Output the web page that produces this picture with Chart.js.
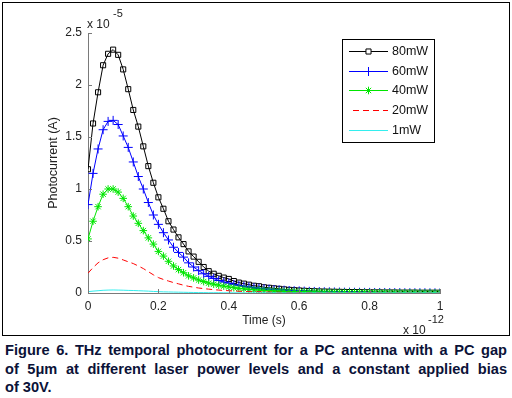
<!DOCTYPE html>
<html>
<head>
<meta charset="utf-8">
<script src="https://cdn.jsdelivr.net/npm/chart.js@4/dist/chart.umd.min.js"></script>
<style>
  html, body { margin:0; padding:0; background:#fff; }
  body { width:512px; height:398px; position:relative; overflow:hidden; }
  #frame { position:absolute; left:2px; top:2px; width:508px; height:334px; box-sizing:border-box; border:1px solid #000; }
  #c { position:absolute; left:3px; top:3px; }
  #cap { position:absolute; left:5px; top:341px; width:502px; font-family:"Liberation Sans", Arial, sans-serif; font-weight:bold; font-size:14.6px; line-height:18.5px; color:#0b1238; }
  #cap div { white-space:nowrap; }
  #cap div.j { text-align:justify; text-align-last:justify; }
</style>
</head>
<body>
<div id="frame"></div>
<canvas id="c" width="506" height="331"></canvas>
<div id="cap">
  <div class="j">Figure 6. THz temporal photocurrent for a PC antenna with a PC gap</div>
  <div class="j">of 5μm at different laser power levels and a constant applied bias</div>
  <div>of 30V.</div>
</div>
<script>
// time axis (units of 1e-12 s)
const timePs = [0,0.0143,0.0286,0.0429,0.0571,0.0714,0.0857,0.1,0.1143,0.1286,0.1429,0.1571,0.1714,0.1857,0.2,0.2143,0.2286,0.2429,0.2571,0.2714,0.2857,0.3,0.3143,0.3286,0.3429,0.3571,0.3714,0.3857,0.4,0.4143,0.4286,0.4429,0.4571,0.4714,0.4857,0.5,0.5143,0.5286,0.5429,0.5571,0.5714,0.5857,0.6,0.6143,0.6286,0.6429,0.6571,0.6714,0.6857,0.7,0.7143,0.7286,0.7429,0.7571,0.7714,0.7857,0.8,0.8143,0.8286,0.8429,0.8571,0.8714,0.8857,0.9,0.9143,0.9286,0.9429,0.9571,0.9714,0.9857,1];

// photocurrent (units of 1e-5 A)
const mw80 = [1.19,1.63,1.93,2.19,2.30,2.34,2.29,2.15,1.96,1.76,1.60,1.41,1.22,1.06,0.92,0.81,0.69,0.61,0.535,0.47,0.40,0.35,0.30,0.25,0.21,0.185,0.165,0.148,0.135,0.115,0.10,0.09,0.08,0.07,0.065,0.055,0.05,0.045,0.04,0.035,0.03,0.027,0.024,
  0.021,0.019,0.017,0.015,0.014,0.013,0.012,0.011,0.010,0.009,0.009,0.008,0.007,0.007,0.006,0.006,0.005,0.005,0.005,0.004,0.004,0.004,0.004,0.003,0.003,0.003,0.003,0.003];
const mw60 = [0.85,1.15,1.385,1.57,1.65,1.66,1.62,1.51,1.40,1.26,1.12,1.00,0.87,0.75,0.66,0.58,0.51,0.44,0.39,0.345,0.29,0.25,0.215,0.185,0.16,0.14,0.12,0.105,0.095,0.083,0.073,0.065,0.058,0.051,0.046,0.041,0.037,0.033,0.030,0.027,0.024,0.022,0.020,
  0.018,0.016,0.015,0.013,0.012,0.011,0.010,0.009,0.008,0.008,0.007,0.007,0.006,0.006,0.005,0.005,0.005,0.004,0.004,0.004,0.003,0.003,0.003,0.003,0.003,0.002,0.002,0.002];
const mw40 = [0.52,0.69,0.83,0.95,1.00,1.00,0.97,0.91,0.83,0.74,0.67,0.60,0.53,0.47,0.40,0.355,0.305,0.26,0.225,0.195,0.165,0.145,0.125,0.11,0.095,0.085,0.075,0.066,0.058,0.051,0.045,0.040,0.035,0.031,0.028,0.025,0.022,0.020,0.018,0.016,0.014,0.013,0.012,
  0.011,0.010,0.009,0.008,0.007,0.007,0.006,0.006,0.005,0.005,0.004,0.004,0.004,0.003,0.003,0.003,0.003,0.002,0.002,0.002,0.002,0.002,0.002,0.001,0.001,0.001,0.001,0.001];
const mw20 = [0.19,0.245,0.29,0.32,0.338,0.343,0.335,0.318,0.30,0.283,0.26,0.235,0.205,0.175,0.148,0.13,0.115,0.10,0.088,0.075,0.064,0.056,0.048,0.042,0.037,0.032,0.028,0.025,0.022,0.019,0.017,0.015,0.013,0.012,0.011,0.010,0.009,0.008,0.007,0.006,0.006,0.005,0.005,
  0.004,0.004,0.004,0.003,0.003,0.003,0.003,0.002,0.002,0.002,0.002,0.002,0.002,0.002,0.001,0.001,0.001,0.001,0.001,0.001,0.001,0.001,0.001,0.001,0.001,0.001,0.001,0.001];
const mw1 = [0.013,0.018,0.022,0.026,0.028,0.029,0.028,0.027,0.025,0.024,0.022,0.020,0.018,0.015,0.013,0.011,0.010,0.009,0.008,0.007,0.006,0.005,0.004,0.004,0.003,0.003,0.003,0.002,0.002,0.002,0.002,0.001,0.001,0.001,0.001,0.001,0.001,0.001,0.001,0.001,0.001,0.001,0.001,
  0.001,0.001,0.001,0.001,0.001,0.001,0.001,0.001,0.001,0.001,0.001,0.001,0.001,0.001,0.001,0.001,0.001,0.001,0.001,0.001,0.001,0.001,0.001,0.001,0.001,0.001,0.001,0.001];

const seriesLabels = ['80mW','60mW','40mW','20mW','1mW'];
const xTickValues = [0,0.2,0.4,0.6,0.8,1];
const xTickLabels = ['0','0.2','0.4','0.6','0.8','1'];
const yTickValues = [0,0.5,1,1.5,2,2.5];
const yTickLabels = ['0','0.5','1','1.5','2','2.5'];
const xTitle = 'Time (s)';
const yTitle = 'Photocurrent (A)';
const xExp = ['x 10','-12'];
const yExp = ['x 10','-5'];

const FONT = '"Liberation Sans", Arial, sans-serif';
const pts = arr => arr.map((v,i)=>({x:timePs[i], y:v}));

const datasets = [
  {label:seriesLabels[0], data:pts(mw80), borderColor:'#000', pointStyle:'rect', pointRadius:3.6, order:5},
  {label:seriesLabels[1], data:pts(mw60), borderColor:'#0000ff', pointStyle:'cross', pointRadius:4.5, order:4},
  {label:seriesLabels[2], data:pts(mw40), borderColor:'#00e600', pointStyle:'star', pointRadius:3.8, order:3},
  {label:seriesLabels[3], data:pts(mw20), borderColor:'#ff0000', pointRadius:0, borderDash:[6,4], order:2},
  {label:seriesLabels[4], data:pts(mw1), borderColor:'#33eeee', pointRadius:0, order:1}
].map(d => Object.assign({borderWidth:1, pointBorderColor:d.borderColor, pointBackgroundColor:'rgba(0,0,0,0)', pointBorderWidth:1, tension:0, fill:false}, d));

const overlay = {
  id:'overlay',
  afterDraw(chart){
    const ctx = chart.ctx, a = chart.chartArea, xs = chart.scales.x, ys = chart.scales.y;
    ctx.save();
    // inward ticks
    ctx.strokeStyle = '#7a7a7a'; ctx.lineWidth = 1;
    yTickValues.forEach(v => { const p = Math.round(ys.getPixelForValue(v)) + 0.5; ctx.beginPath(); ctx.moveTo(a.left, p); ctx.lineTo(a.left + 4, p); ctx.stroke(); });
    xTickValues.forEach(v => { const p = Math.round(xs.getPixelForValue(v)) + 0.5; ctx.beginPath(); ctx.moveTo(p, a.bottom); ctx.lineTo(p, a.bottom - 4); ctx.stroke(); });
    // exponent labels
    ctx.fillStyle = '#222'; ctx.textBaseline = 'middle'; ctx.textAlign = 'left';
    ctx.font = '12px ' + FONT;
    ctx.fillText(yExp[0], a.left - 1, a.top - 8);
    ctx.fillText(xExp[0], a.right - 37, a.bottom + 38);
    ctx.font = '11px ' + FONT;
    ctx.fillText(yExp[1], a.left + 25, a.top - 19);
    ctx.fillText(xExp[1], a.right - 12, a.bottom + 27);
    // legend
    const bx = a.right - 98, by = a.top + 6, bw = 92, bh = 103;
    ctx.fillStyle = '#fff'; ctx.fillRect(bx, by, bw, bh);
    ctx.strokeStyle = '#000'; ctx.lineWidth = 1; ctx.strokeRect(bx + 0.5, by + 0.5, bw, bh);
    ctx.font = '12.5px ' + FONT; ctx.textBaseline = 'middle';
    chart.data.datasets.forEach((d, i) => {
      const y = Math.round(by + 12 + i * 19.7) + 0.5;
      const x0 = bx + 7, x1 = bx + 46;
      ctx.save();
      ctx.strokeStyle = d.borderColor; ctx.lineWidth = 1;
      ctx.setLineDash(d.borderDash || []);
      ctx.beginPath(); ctx.moveTo(d.borderDash ? x0 + 4 : x0, y); ctx.lineTo(x1, y); ctx.stroke();
      ctx.setLineDash([]);
      if (d.pointRadius > 0) {
        Chart.helpers.drawPoint(ctx, {pointStyle:d.pointStyle, radius:d.pointRadius, borderWidth:1, rotation:0}, (x0 + x1) / 2, y);
      }
      ctx.restore();
      ctx.fillStyle = '#111';
      ctx.fillText(d.label, x1 + 4, y);
    });
    ctx.restore();
  }
};

new Chart(document.getElementById('c'), {
  type:'line',
  data:{datasets},
  options:{
    responsive:false, animation:false, devicePixelRatio:1,
    layout:{padding:{top:30, right:69, left:0, bottom:0}},
    plugins:{legend:{display:false}, tooltip:{enabled:false}},
    scales:{
      x:{type:'linear', min:0, max:1,
        afterBuildTicks: s => { s.ticks = xTickValues.map(v => ({value:v})); },
        ticks:{callback:(v)=>xTickLabels[xTickValues.indexOf(v)], font:{family:FONT, size:12}, color:'#222', padding:6, maxRotation:0},
        grid:{display:false, drawTicks:false},
        border:{color:'#7a7a7a', width:1},
        title:{display:true, text:xTitle, font:{family:FONT, size:12}, color:'#222', padding:{top:6, bottom:6}},
        afterFit: s => { s.height = 41; }
      },
      y:{type:'linear', min:0, max:2.5,
        afterBuildTicks: s => { s.ticks = yTickValues.map(v => ({value:v})); },
        ticks:{callback:(v)=>yTickLabels[yTickValues.indexOf(v)], font:{family:FONT, size:12}, color:'#222', padding:6},
        grid:{display:false, drawTicks:false},
        border:{color:'#7a7a7a', width:1},
        title:{display:true, text:yTitle, font:{family:FONT, size:12.5}, color:'#222', padding:{top:43, bottom:0}},
        afterFit: s => { s.width = 85; }
      }
    }
  },
  plugins:[overlay]
});
</script>
</body>
</html>
